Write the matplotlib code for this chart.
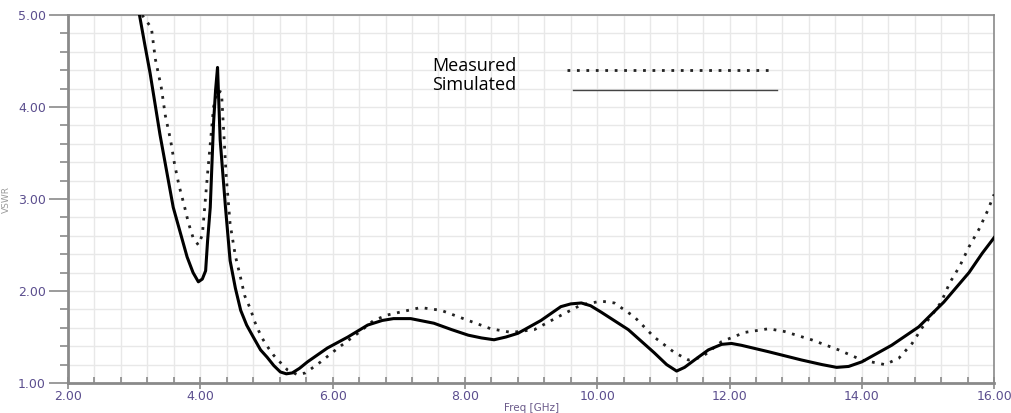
import numpy as np
import matplotlib
matplotlib.use("Agg")
import matplotlib.pyplot as plt
from matplotlib.ticker import MultipleLocator, FormatStrFormatter

# Simulated VSWR (solid)
sim_freq = [3.08, 3.16, 3.24, 3.39, 3.59, 3.80, 3.89, 3.97, 4.03, 4.08, 4.11, 4.15,
            4.20, 4.23, 4.26, 4.30, 4.38, 4.45, 4.53, 4.61, 4.70, 4.80, 4.91, 5.01,
            5.11, 5.21, 5.30, 5.39, 5.50, 5.62, 5.92, 6.23, 6.53, 6.75, 6.92, 7.18,
            7.53, 7.80, 8.05, 8.25, 8.44, 8.62, 8.80, 9.15, 9.45, 9.60, 9.76, 9.90,
            10.06, 10.47, 10.86, 11.05, 11.20, 11.32, 11.47, 11.68, 11.88, 12.03,
            12.18, 12.59, 13.09, 13.40, 13.62, 13.80, 14.00, 14.45, 14.86, 15.24,
            15.62, 15.82, 16.00]
sim_vswr = [5.00, 4.68, 4.37, 3.70, 2.91, 2.37, 2.20, 2.10, 2.13, 2.22, 2.55, 2.91,
            3.83, 4.18, 4.43, 3.64, 2.91, 2.33, 2.03, 1.79, 1.63, 1.50, 1.36, 1.28,
            1.19, 1.12, 1.10, 1.11, 1.16, 1.23, 1.38, 1.50, 1.63, 1.68, 1.70, 1.70,
            1.65, 1.58, 1.52, 1.49, 1.47, 1.50, 1.54, 1.68, 1.83, 1.86, 1.87, 1.84,
            1.77, 1.58, 1.33, 1.20, 1.13, 1.17, 1.25, 1.36, 1.42, 1.43,
            1.41, 1.34, 1.25, 1.20, 1.17, 1.18, 1.23, 1.41, 1.61, 1.88,
            2.20, 2.41, 2.58]

# Measured VSWR (dotted)
meas_freq = [3.12, 3.26, 3.32, 3.41, 3.47, 3.55, 3.61, 3.68, 3.76, 3.82, 3.89, 3.97,
             4.03, 4.11, 4.20, 4.26, 4.32, 4.39, 4.45, 4.53, 4.61, 4.67, 4.76, 4.82,
             4.88, 4.95, 5.03, 5.11, 5.24, 5.32, 5.47, 5.59, 5.82, 6.08, 6.38, 6.62,
             6.83, 7.08, 7.33, 7.64, 8.05, 8.39, 8.70, 9.05, 9.41, 9.76, 10.06, 10.26,
             10.56, 10.86, 11.17, 11.38, 11.58, 11.88, 12.23, 12.59, 12.83, 13.24,
             13.65, 14.00, 14.35, 14.56, 14.76, 14.91, 15.06, 15.20, 15.33, 15.48,
             15.62, 15.77, 15.90, 16.00]
meas_vswr = [5.00, 4.86, 4.52, 4.21, 3.91, 3.64, 3.38, 3.14, 2.92, 2.74, 2.58, 2.50,
             2.61, 3.28, 4.00, 4.18, 4.16, 3.26, 2.73, 2.38, 2.14, 1.95, 1.80, 1.67,
             1.57, 1.47, 1.38, 1.30, 1.20, 1.14, 1.09, 1.11, 1.23, 1.38, 1.54, 1.68,
             1.74, 1.78, 1.82, 1.79, 1.68, 1.59, 1.55, 1.58, 1.72, 1.85, 1.89, 1.87,
             1.72, 1.50, 1.33, 1.25, 1.28, 1.45, 1.55, 1.59, 1.56, 1.47,
             1.36, 1.25, 1.20, 1.27, 1.43, 1.60, 1.74, 1.88, 2.09, 2.27,
             2.48, 2.67, 2.87, 3.05]

tick_col = "#5b4e8e"
spine_col = "#8a8a8a"

fig = plt.figure(figsize=(10.11, 4.13), dpi=100)
ax = fig.add_axes([0.0673, 0.0726, 0.9160, 0.8911])

ax.plot(meas_freq, meas_vswr, color="#222222", lw=2.0,
        linestyle=(0, (1, 2.4)), dash_capstyle="butt", zorder=3)
ax.plot(sim_freq, sim_vswr, color="black", lw=2.2, zorder=4)

ax.set_xlim(2, 16)
ax.set_ylim(1, 5)

# grid
ax.xaxis.set_major_locator(MultipleLocator(2))
ax.xaxis.set_minor_locator(MultipleLocator(0.4))
ax.yaxis.set_major_locator(MultipleLocator(1))
ax.yaxis.set_minor_locator(MultipleLocator(0.2))
ax.xaxis.set_major_formatter(FormatStrFormatter("%.2f"))
ax.yaxis.set_major_formatter(FormatStrFormatter("%.2f"))
ax.grid(True, which="both", color="#e8e8e8", lw=1.0)
ax.set_axisbelow(True)

for s in ax.spines.values():
    s.set_color(spine_col)
    s.set_linewidth(1.2)
ax.spines["left"].set_linewidth(2)
ax.spines["bottom"].set_linewidth(2)

ax.tick_params(axis="y", which="major", direction="out", length=14, width=1.2,
               color=spine_col, labelcolor=tick_col, labelsize=9, pad=2)
ax.tick_params(axis="y", which="minor", direction="out", length=6, width=1.2,
               color=spine_col)
ax.tick_params(axis="x", which="major", direction="inout", length=8, width=1.2,
               color=spine_col, labelcolor=tick_col, labelsize=9, pad=1)
ax.tick_params(axis="x", which="minor", direction="in", length=4, width=1.2,
               color=spine_col)

ax.set_xlabel("Freq [GHz]", fontsize=7.5, color="#6a5a8a", labelpad=0)
ax.set_ylabel("VSWR", fontsize=6.5, color="#9a9a9a", labelpad=5)

# legend drawn by hand, as in the original
ax.text(0.393, 0.862, "Measured", transform=ax.transAxes, fontsize=13,
        family="Open Sans", color="black", va="center", ha="left")
ax.text(0.393, 0.810, "Simulated", transform=ax.transAxes, fontsize=13,
        family="Open Sans", color="black", va="center", ha="left")
ax.plot([0.539, 0.760], [0.851, 0.851], transform=ax.transAxes, color="#222222",
        lw=2.0, linestyle=(0, (1, 2.4)), dash_capstyle="butt")
ax.plot([0.545, 0.766], [0.796, 0.796], transform=ax.transAxes, color="#444444",
        lw=1.0)

fig.savefig("out.png", dpi=100)
